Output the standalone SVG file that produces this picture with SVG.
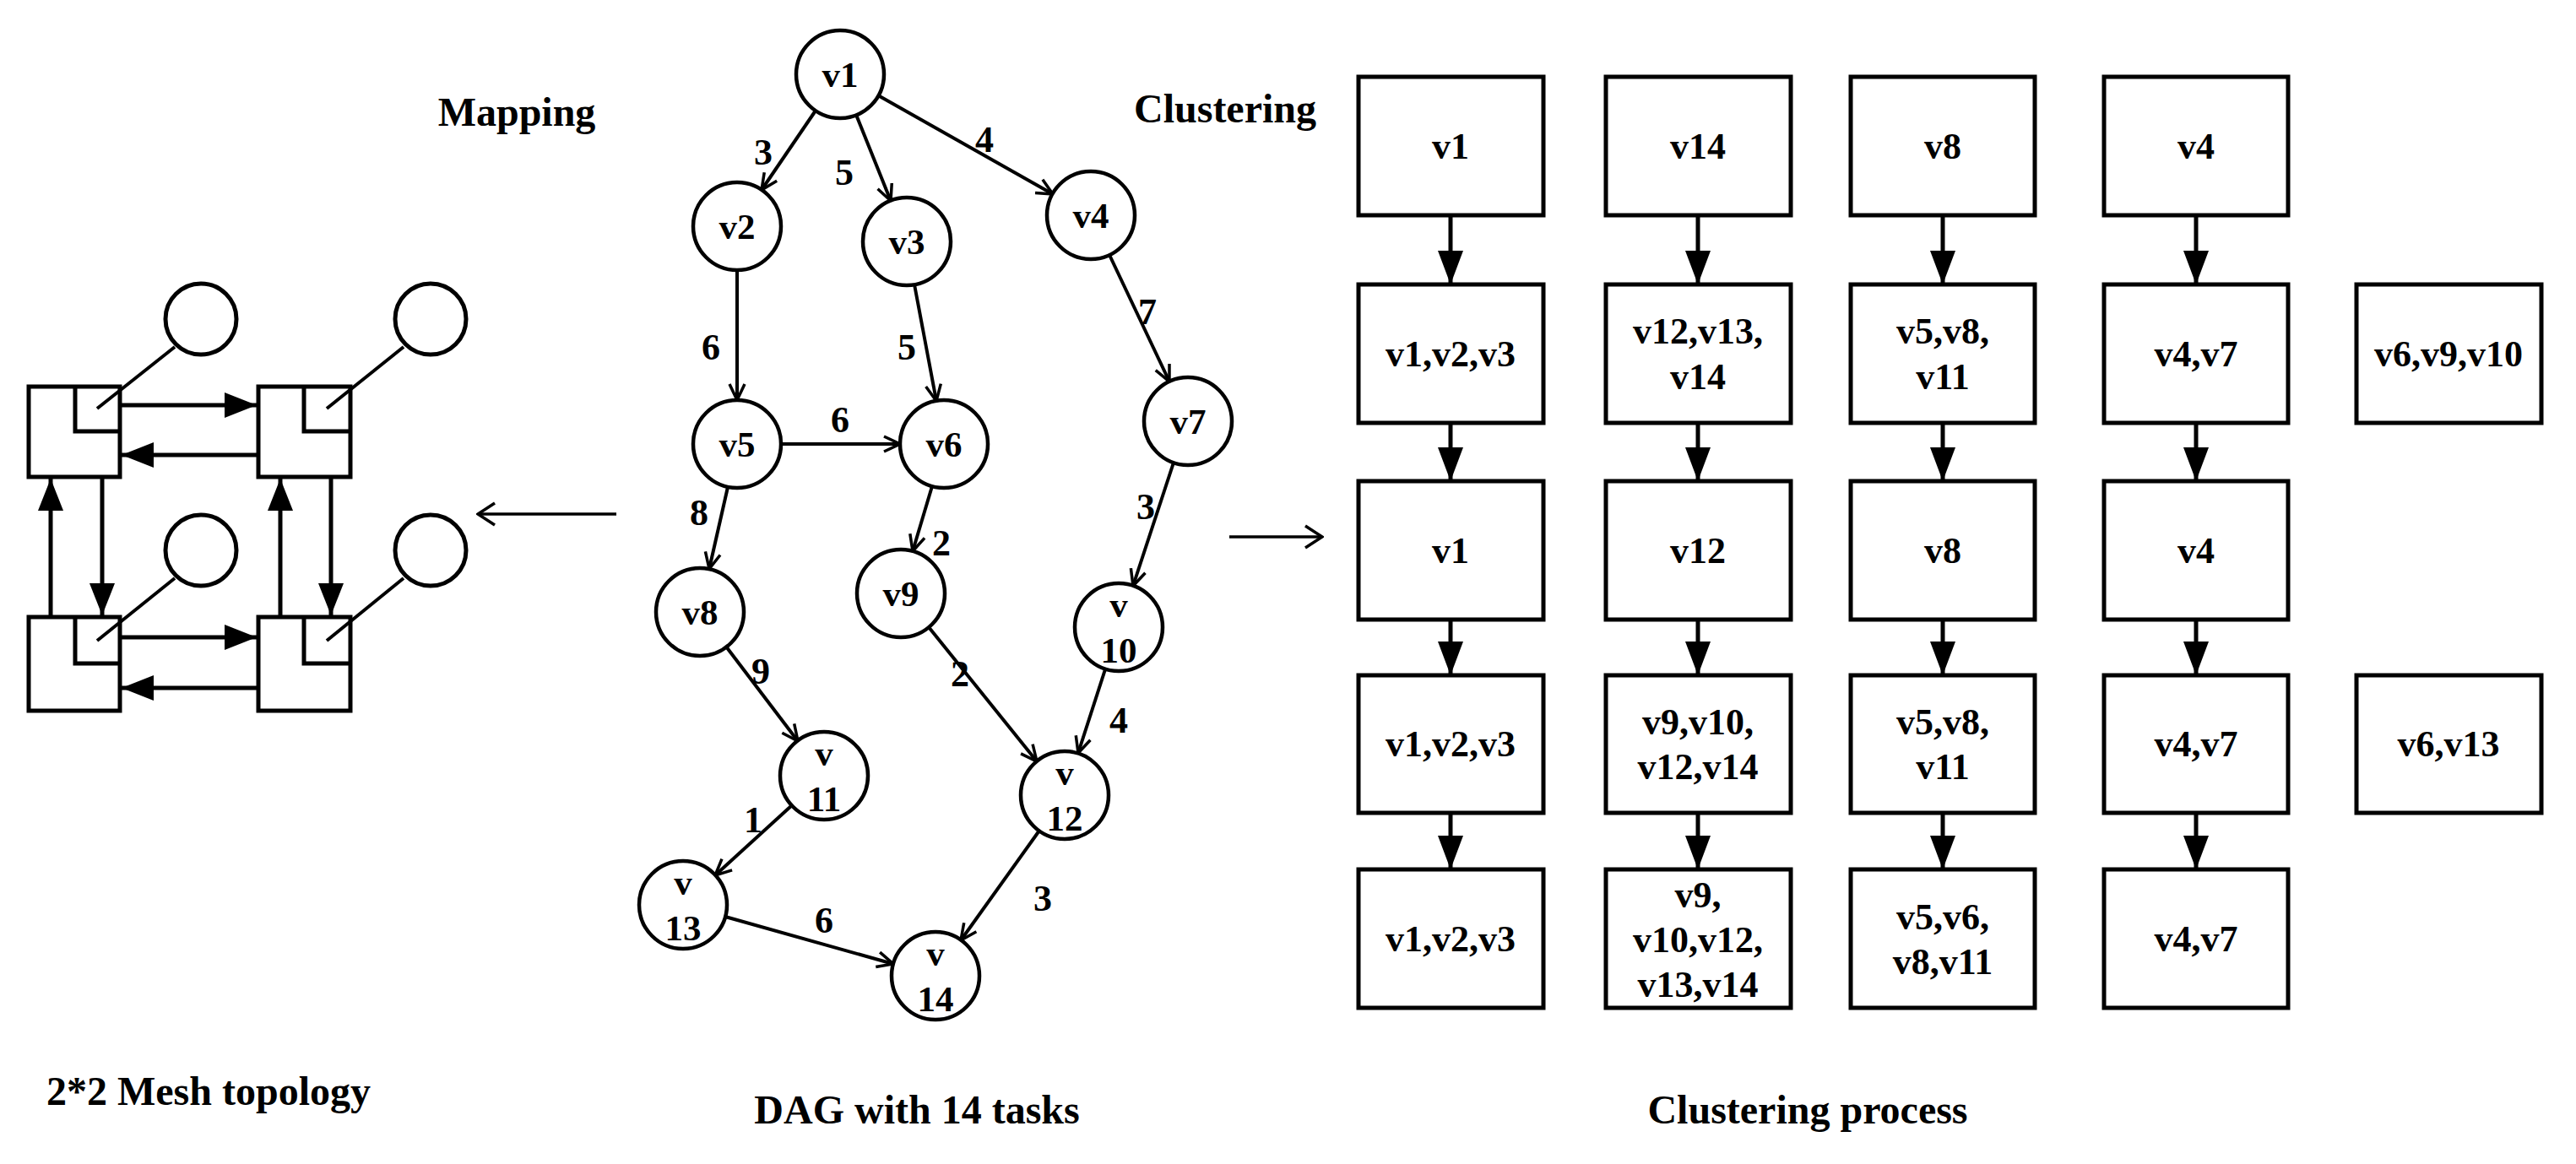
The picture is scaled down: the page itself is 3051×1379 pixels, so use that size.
<svg xmlns="http://www.w3.org/2000/svg" width="3051" height="1379" viewBox="0 0 3051 1379">
<style>
text{font-family:"Liberation Serif","Times New Roman",serif;font-weight:bold;fill:#000;text-anchor:middle;dominant-baseline:central}
.t{font-size:48px}
.n{font-size:43px}
.w{font-size:44px}
.c{font-size:44px}
circle,rect{fill:#fff;stroke:#000;stroke-width:5}
.dag circle{stroke-width:4.5}
line,path{stroke:#000;fill:none}
.e{stroke-width:4;marker-end:url(#open)}
.m{stroke-width:5;marker-end:url(#fill)}
.k{stroke-width:5;marker-end:url(#fill2)}
.thin{stroke-width:3.5;marker-end:url(#open2)}
</style>
<defs>
<marker id="open" viewBox="0 0 22 22" refX="21" refY="11" markerWidth="22" markerHeight="22" markerUnits="userSpaceOnUse" orient="auto"><path d="M2,2 L21,11 L2,20" style="stroke:#000;stroke-width:3.5;fill:none"/></marker>
<marker id="open2" viewBox="0 0 30 30" refX="28" refY="15" markerWidth="30" markerHeight="30" markerUnits="userSpaceOnUse" orient="auto"><path d="M8,2 L28,15 L8,28" style="stroke:#000;stroke-width:3.5;fill:none"/></marker>
<marker id="fill" viewBox="0 0 38 30" refX="38" refY="15" markerWidth="38" markerHeight="30" markerUnits="userSpaceOnUse" orient="auto"><path d="M0,0 L38,15 L0,30 Z" style="fill:#000;stroke:none"/></marker>
<marker id="fill2" viewBox="0 0 40 30" refX="40" refY="15" markerWidth="40" markerHeight="30" markerUnits="userSpaceOnUse" orient="auto"><path d="M0,0 L40,15 L0,30 Z" style="fill:#000;stroke:none"/></marker>
</defs>
<rect x="0" y="0" width="3051" height="1379" style="fill:#fff;stroke:none"/>

<g id="labels">
<text class="t" x="612" y="132">Mapping</text>
<text class="t" x="1451" y="128">Clustering</text>
<text class="t" x="247" y="1292">2*2 Mesh topology</text>
<text class="t" x="1086" y="1314">DAG with 14 tasks</text>
<text class="t" x="2141" y="1314">Clustering process</text>
</g>

<g id="mesh">
<g id="pe1"><rect x="34" y="458" width="108" height="107"/><path d="M89,458 V511 H142" style="stroke-width:5"/><circle cx="238" cy="378" r="42"/><line x1="115" y1="484" x2="207" y2="411" style="stroke-width:4"/></g>
<g id="pe2"><rect x="306" y="458" width="109" height="107"/><path d="M360,458 V511 H415" style="stroke-width:5"/><circle cx="510" cy="378" r="42"/><line x1="387" y1="484" x2="478" y2="411" style="stroke-width:4"/></g>
<g id="pe3"><rect x="34" y="731" width="108" height="111"/><path d="M89,731 V786 H142" style="stroke-width:5"/><circle cx="238" cy="652" r="42"/><line x1="115" y1="759" x2="207" y2="685" style="stroke-width:4"/></g>
<g id="pe4"><rect x="306" y="731" width="109" height="111"/><path d="M360,731 V786 H415" style="stroke-width:5"/><circle cx="510" cy="652" r="42"/><line x1="387" y1="759" x2="478" y2="685" style="stroke-width:4"/></g>
</g>

<g id="connectors">
<line class="m" x1="144" y1="480" x2="304" y2="480"/>
<line class="m" x1="304" y1="539" x2="144" y2="539"/>
<line class="m" x1="144" y1="755" x2="304" y2="755"/>
<line class="m" x1="304" y1="815" x2="144" y2="815"/>
<line class="m" x1="60" y1="729" x2="60" y2="567"/>
<line class="m" x1="121" y1="567" x2="121" y2="729"/>
<line class="m" x1="332" y1="729" x2="332" y2="567"/>
<line class="m" x1="392" y1="567" x2="392" y2="729"/>
<line class="thin" x1="730" y1="609" x2="566" y2="609"/>
<line class="thin" x1="1456" y1="636" x2="1566" y2="636"/>

<line class="e" x1="966" y1="131" x2="902" y2="225"/>
<line class="e" x1="1014" y1="136" x2="1055" y2="238"/>
<line class="e" x1="1040" y1="113" x2="1247" y2="230"/>
<line class="e" x1="873" y1="320" x2="873" y2="474"/>
<line class="e" x1="1083" y1="337" x2="1109" y2="475"/>
<line class="e" x1="1314" y1="302" x2="1385" y2="452"/>
<line class="e" x1="925" y1="526" x2="1066" y2="526"/>
<line class="e" x1="862" y1="577" x2="840" y2="674"/>
<line class="e" x1="1104" y1="576" x2="1081" y2="653"/>
<line class="e" x1="1390" y1="548" x2="1342" y2="694"/>
<line class="e" x1="860" y1="766" x2="945" y2="878"/>
<line class="e" x1="1100" y1="743" x2="1228" y2="902"/>
<line class="e" x1="1309" y1="793" x2="1277" y2="892"/>
<line class="e" x1="938" y1="954" x2="847" y2="1037"/>
<line class="e" x1="859" y1="1086" x2="1058" y2="1142"/>
<line class="e" x1="1231" y1="984" x2="1138" y2="1114"/>

<line class="k" x1="1718" y1="255" x2="1718" y2="337"/>
<line class="k" x1="1718" y1="501" x2="1718" y2="570"/>
<line class="k" x1="1718" y1="734" x2="1718" y2="800"/>
<line class="k" x1="1718" y1="963" x2="1718" y2="1030"/>
<line class="k" x1="2011" y1="255" x2="2011" y2="337"/>
<line class="k" x1="2011" y1="501" x2="2011" y2="570"/>
<line class="k" x1="2011" y1="734" x2="2011" y2="800"/>
<line class="k" x1="2011" y1="963" x2="2011" y2="1030"/>
<line class="k" x1="2301" y1="255" x2="2301" y2="337"/>
<line class="k" x1="2301" y1="501" x2="2301" y2="570"/>
<line class="k" x1="2301" y1="734" x2="2301" y2="800"/>
<line class="k" x1="2301" y1="963" x2="2301" y2="1030"/>
<line class="k" x1="2601" y1="255" x2="2601" y2="337"/>
<line class="k" x1="2601" y1="501" x2="2601" y2="570"/>
<line class="k" x1="2601" y1="734" x2="2601" y2="800"/>
<line class="k" x1="2601" y1="963" x2="2601" y2="1030"/>
</g>

<g id="edge-labels">
<text class="w" x="904" y="180">3</text>
<text class="w" x="1000" y="204">5</text>
<text class="w" x="1166" y="165">4</text>
<text class="w" x="842" y="411">6</text>
<text class="w" x="1074" y="411">5</text>
<text class="w" x="1359" y="369">7</text>
<text class="w" x="995" y="497">6</text>
<text class="w" x="828" y="607">8</text>
<text class="w" x="1115" y="643">2</text>
<text class="w" x="1357" y="600">3</text>
<text class="w" x="901" y="795">9</text>
<text class="w" x="1137" y="798">2</text>
<text class="w" x="1325" y="853">4</text>
<text class="w" x="892" y="971">1</text>
<text class="w" x="1235" y="1064">3</text>
<text class="w" x="976" y="1090">6</text>
</g>

<g class="dag">
<g id="v1"><circle cx="995" cy="88" r="52"/><text class="n" x="995" y="88">v1</text></g>
<g id="v2"><circle cx="873" cy="268" r="52"/><text class="n" x="873" y="268">v2</text></g>
<g id="v3"><circle cx="1074" cy="286" r="52"/><text class="n" x="1074" y="286">v3</text></g>
<g id="v4"><circle cx="1292" cy="255" r="52"/><text class="n" x="1292" y="255">v4</text></g>
<g id="v5"><circle cx="873" cy="526" r="52"/><text class="n" x="873" y="526">v5</text></g>
<g id="v6"><circle cx="1118" cy="526" r="52"/><text class="n" x="1118" y="526">v6</text></g>
<g id="v7"><circle cx="1407" cy="499" r="52"/><text class="n" x="1407" y="499">v7</text></g>
<g id="v8"><circle cx="829" cy="725" r="52"/><text class="n" x="829" y="725">v8</text></g>
<g id="v9"><circle cx="1067" cy="703" r="52"/><text class="n" x="1067" y="703">v9</text></g>
<g id="v10"><circle cx="1325" cy="743" r="52"/><text class="n" x="1325" y="716">v</text><text class="n" x="1325" y="770">10</text></g>
<g id="v11"><circle cx="976" cy="919" r="52"/><text class="n" x="976" y="892">v</text><text class="n" x="976" y="946">11</text></g>
<g id="v12"><circle cx="1261" cy="942" r="52"/><text class="n" x="1261" y="915">v</text><text class="n" x="1261" y="969">12</text></g>
<g id="v13"><circle cx="809" cy="1072" r="52"/><text class="n" x="809" y="1045">v</text><text class="n" x="809" y="1099">13</text></g>
<g id="v14"><circle cx="1108" cy="1156" r="52"/><text class="n" x="1108" y="1129">v</text><text class="n" x="1108" y="1183">14</text></g>
</g>

<g id="clusters">
<g id="c11"><rect x="1609" y="91" width="219" height="164"/><text class="c" x="1718" y="173">v1</text></g>
<g id="c12"><rect x="1902" y="91" width="219" height="164"/><text class="c" x="2011" y="173">v14</text></g>
<g id="c13"><rect x="2192" y="91" width="218" height="164"/><text class="c" x="2301" y="173">v8</text></g>
<g id="c14"><rect x="2492" y="91" width="218" height="164"/><text class="c" x="2601" y="173">v4</text></g>

<g id="c21"><rect x="1609" y="337" width="219" height="164"/><text class="c" x="1718" y="419">v1,v2,v3</text></g>
<g id="c22"><rect x="1902" y="337" width="219" height="164"/><text class="c" x="2011" y="392">v12,v13,</text><text class="c" x="2011" y="446">v14</text></g>
<g id="c23"><rect x="2192" y="337" width="218" height="164"/><text class="c" x="2301" y="392">v5,v8,</text><text class="c" x="2301" y="446">v11</text></g>
<g id="c24"><rect x="2492" y="337" width="218" height="164"/><text class="c" x="2601" y="419">v4,v7</text></g>
<g id="c25"><rect x="2791" y="337" width="219" height="164"/><text class="c" x="2900" y="419">v6,v9,v10</text></g>

<g id="c31"><rect x="1609" y="570" width="219" height="164"/><text class="c" x="1718" y="652">v1</text></g>
<g id="c32"><rect x="1902" y="570" width="219" height="164"/><text class="c" x="2011" y="652">v12</text></g>
<g id="c33"><rect x="2192" y="570" width="218" height="164"/><text class="c" x="2301" y="652">v8</text></g>
<g id="c34"><rect x="2492" y="570" width="218" height="164"/><text class="c" x="2601" y="652">v4</text></g>

<g id="c41"><rect x="1609" y="800" width="219" height="163"/><text class="c" x="1718" y="881">v1,v2,v3</text></g>
<g id="c42"><rect x="1902" y="800" width="219" height="163"/><text class="c" x="2011" y="855">v9,v10,</text><text class="c" x="2011" y="908">v12,v14</text></g>
<g id="c43"><rect x="2192" y="800" width="218" height="163"/><text class="c" x="2301" y="855">v5,v8,</text><text class="c" x="2301" y="908">v11</text></g>
<g id="c44"><rect x="2492" y="800" width="218" height="163"/><text class="c" x="2601" y="881">v4,v7</text></g>
<g id="c45"><rect x="2791" y="800" width="219" height="163"/><text class="c" x="2900" y="881">v6,v13</text></g>

<g id="c51"><rect x="1609" y="1030" width="219" height="164"/><text class="c" x="1718" y="1112">v1,v2,v3</text></g>
<g id="c52"><rect x="1902" y="1030" width="219" height="164"/><text class="c" x="2011" y="1060">v9,</text><text class="c" x="2011" y="1113">v10,v12,</text><text class="c" x="2011" y="1166">v13,v14</text></g>
<g id="c53"><rect x="2192" y="1030" width="218" height="164"/><text class="c" x="2301" y="1086">v5,v6,</text><text class="c" x="2301" y="1139">v8,v11</text></g>
<g id="c54"><rect x="2492" y="1030" width="218" height="164"/><text class="c" x="2601" y="1112">v4,v7</text></g>
</g>
</svg>
